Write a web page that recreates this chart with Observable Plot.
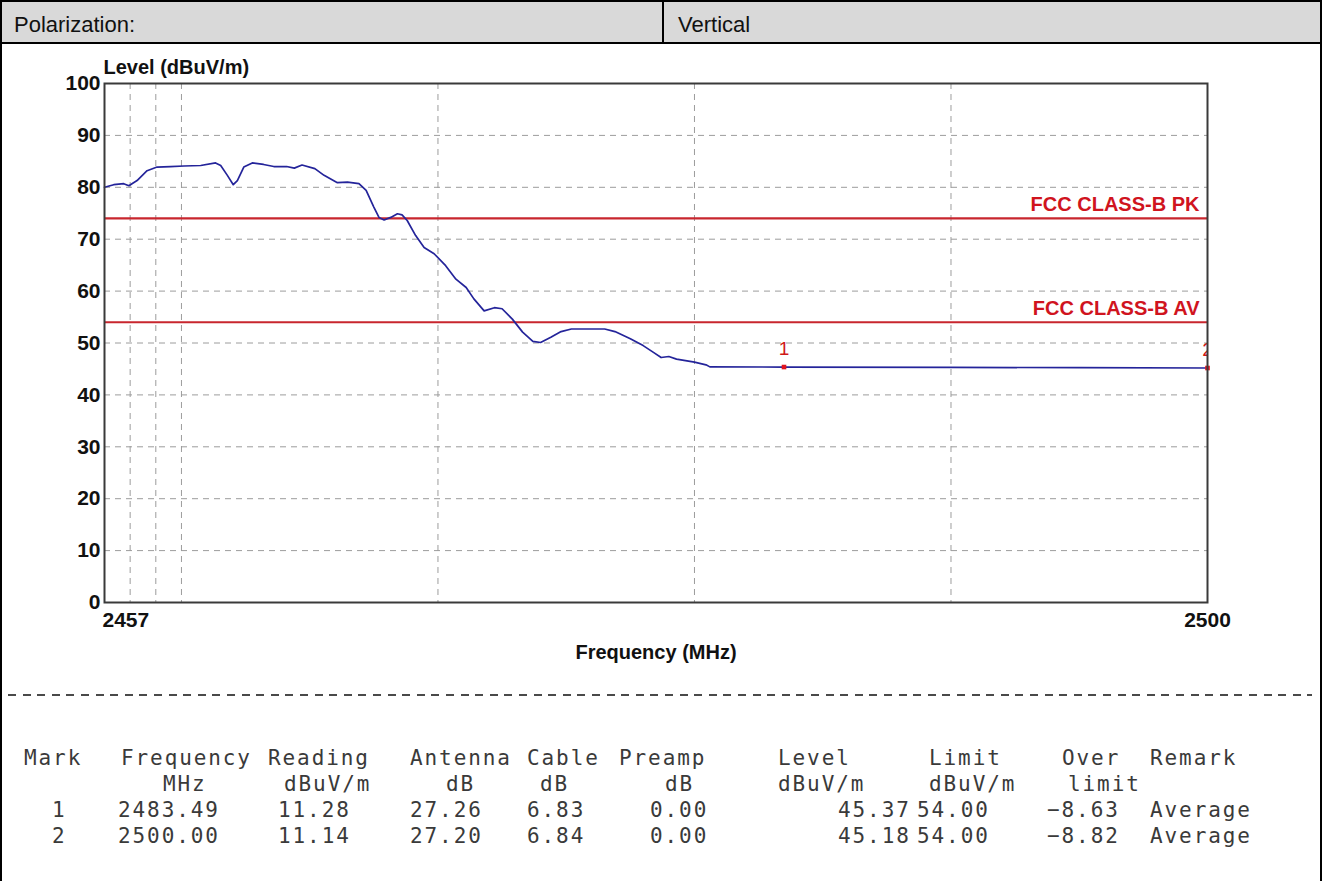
<!DOCTYPE html>
<html>
<head>
<meta charset="utf-8">
<script src="https://cdn.jsdelivr.net/npm/d3@7"></script>
<script src="https://cdn.jsdelivr.net/npm/@observablehq/plot@0.6"></script>
<style>
  body { margin: 0; background: #fff; width: 1327px; height: 881px; overflow: hidden; position: relative;
         font-family: "Liberation Sans", Arial, sans-serif; }
  #box { position: absolute; left: 0; top: 0; width: 1318px; height: 900px; border: 2px solid #000; border-bottom: none; }
  #hdr { position: absolute; left: 2px; top: 2px; width: 1318px; height: 40px; background: #d9d9d9; border-bottom: 2px solid #000; }
  #hdr .div { position: absolute; left: 660px; top: 0; width: 2px; height: 40px; background: #000; }
  #hdr .cell { position: absolute; top: 3px; height: 40px; line-height: 40px; font-size: 22px; color: #111; }
  #chart { position: absolute; left: 0; top: 44px; }
  #sep { position: absolute; left: 8px; top: 694px; width: 1304px; height: 2px;
         background: repeating-linear-gradient(to right, #4a4a4a 0 8px, transparent 8px 14.6px); }
  .t { position: absolute; font-family: "DejaVu Sans Mono", "Liberation Mono", monospace; font-size: 21px;
       line-height: 24px; letter-spacing: 1.9px; color: #3a3a3a; white-space: pre; }
</style>
</head>
<body>
<div id="box"></div>
<div id="hdr">
  <div class="cell" style="left:12px">Polarization:</div>
  <div class="div"></div>
  <div class="cell" style="left:676px">Vertical</div>
</div>
<div id="chart"></div>
<div id="sep"></div>
<div id="table"></div>
<script>
// Measured field strength trace (frequency in MHz, level in dBuV/m)
const freq = [
  2457.0, 2457.36, 2457.75, 2457.95, 2458.27, 2458.66, 2459.05, 2459.57, 2460.1, 2460.75,
  2461.33, 2461.53, 2461.79, 2462.02, 2462.18, 2462.43, 2462.76, 2463.2, 2463.6, 2464.1,
  2464.4, 2464.7, 2465.2, 2465.56, 2466.08, 2466.47, 2466.92, 2467.2, 2467.5, 2467.7,
  2467.9, 2468.16, 2468.42, 2468.6, 2468.8, 2469.13, 2469.46, 2469.85, 2470.3, 2470.7,
  2471.1, 2471.4, 2471.8, 2472.2, 2472.5, 2472.9, 2473.3, 2473.7, 2474.0, 2474.4,
  2474.8, 2475.2, 2476.0, 2476.5, 2476.9, 2477.5, 2478.0, 2478.4, 2478.7, 2479.0,
  2479.3, 2480.0, 2480.45, 2480.6, 2483.49, 2490.0, 2495.0, 2500.0
];
const level = [
  80.0, 80.5, 80.7, 80.3, 81.3, 83.2, 83.9, 84.0, 84.1, 84.2,
  84.7, 84.2, 82.3, 80.5, 81.3, 83.9, 84.7, 84.4, 84.0, 84.0,
  83.7, 84.3, 83.6, 82.3, 80.9, 81.0, 80.7, 79.4, 76.2, 74.2,
  73.7, 74.2, 74.9, 74.7, 73.6, 70.7, 68.4, 67.2, 64.9, 62.3,
  60.7, 58.5, 56.2, 56.8, 56.6, 54.6, 52.1, 50.3, 50.1, 51.1,
  52.2, 52.7, 52.7, 52.7, 52.2, 50.8, 49.5, 48.2, 47.2, 47.4,
  46.9, 46.3, 45.8, 45.4, 45.37, 45.3, 45.25, 45.18
];

// Axes and grid
const xTicks = [2457, 2500];
const yTicks = [0, 10, 20, 30, 40, 50, 60, 70, 80, 90, 100];
const gridFreq = [2458, 2459, 2460, 2470, 2480, 2490];
const gridLevel = [10, 20, 30, 40, 50, 60, 70, 80, 90];

// Limit lines
const limitNames = ["FCC CLASS-B PK", "FCC CLASS-B AV"];
const limitValues = [74, 54];

// Marker table
const markNo = ["1", "2"];
const markFreq = [2483.49, 2500.00];
const markReading = [11.28, 11.14];
const markAntenna = [27.26, 27.20];
const markCable = [6.83, 6.84];
const markPreamp = [0.00, 0.00];
const markLevel = [45.37, 45.18];
const markLimit = [54.00, 54.00];
const markOver = [-8.63, -8.82];
const markRemark = ["Average", "Average"];
const headNames = ["Mark", "Frequency", "Reading", "Antenna", "Cable", "Preamp", "Level", "Limit", "Over", "Remark"];
const headUnits = ["", "MHz", "dBuV/m", "dB", "dB", "dB", "dBuV/m", "dBuV/m", "limit", ""];

const curve = freq.map((f, i) => ({f, v: level[i]}));
const limits = limitNames.map((name, i) => ({name, value: limitValues[i]}));
const marks = markNo.map((no, i) => ({no, f: markFreq[i], v: markLevel[i]}));

const boldFont = {fontSize: 21, fontWeight: "bold", fill: "#111"};

const chart = Plot.plot({
  width: 1327,
  height: 620,
  marginLeft: 104,
  marginRight: 120,
  marginTop: 39,
  marginBottom: 62,
  x: {domain: [2457, 2500]},
  y: {domain: [0, 100]},
  style: {background: "transparent", fontFamily: "'Liberation Sans', Arial, sans-serif", overflow: "visible"},
  marks: [
    Plot.ruleX(gridFreq, {stroke: "#9c9c9c", strokeDasharray: "6,5"}),
    Plot.ruleY(gridLevel, {stroke: "#9c9c9c", strokeDasharray: "6,5"}),
    Plot.ruleY(limits, {y: "value", stroke: "#c8262e", strokeWidth: 2.2}),
    Plot.text(limits, {y: "value", text: "name", frameAnchor: "right", textAnchor: "end", dx: -8, dy: -14,
      fontSize: 20, fontWeight: "bold", fill: "#d0141e", letterSpacing: "-0.3px"}),
    Plot.line(curve, {x: "f", y: "v", stroke: "#24249a", strokeWidth: 1.7}),
    Plot.dot(marks, {x: "f", y: "v", symbol: "square", r: 2.6, fill: "#e0141e", stroke: "none"}),
    Plot.text(marks, {x: "f", y: "v", text: "no", dy: -18, fontSize: 19, fill: "#d01818", clip: true}),
    Plot.frame({stroke: "#3a3a3a", strokeWidth: 2}),
    Plot.axisY({ticks: yTicks, tickSize: 0, tickPadding: 4, label: null, ...boldFont}),
    Plot.axisX({ticks: [xTicks[0]], tickFormat: d => String(d), tickSize: 0, tickPadding: 10,
      textAnchor: "start", dx: -2, label: null, ...boldFont}),
    Plot.axisX({ticks: [xTicks[1]], tickFormat: d => String(d), tickSize: 0, tickPadding: 10, label: null, ...boldFont}),
    Plot.text(["Level (dBuV/m)"], {frameAnchor: "top-left", textAnchor: "start", lineAnchor: "middle", dy: -16, dx: -1,
      fontSize: 20, fontWeight: "bold", fill: "#111"}),
    Plot.text(["Frequency (MHz)"], {frameAnchor: "bottom", lineAnchor: "middle", dy: 50,
      fontSize: 20, fontWeight: "bold", fill: "#111"})
  ]
});
document.getElementById("chart").appendChild(chart);

// Marker table below the chart
const fmt = d3.format(".2f");
const headX = [24, 121, 268, 410, 527, 619, 778, 929, 1062, 1150];
const unitX = [0, 163, 284, 446, 540, 665, 778, 929, 1068, 0];
const rowX = [52, 118, 278, 410, 527, 650, 838, 917, 1047, 1150];
const rowTop = [746, 772, 798, 824];
const table = document.getElementById("table");
function put(text, x, y) {
  if (!text) return;
  const s = document.createElement("div");
  s.className = "t";
  s.style.left = x + "px";
  s.style.top = y + "px";
  s.textContent = text;
  table.appendChild(s);
}
headNames.forEach((h, i) => put(h, headX[i], rowTop[0]));
headUnits.forEach((u, i) => put(u, unitX[i], rowTop[1]));
markNo.forEach((no, r) => {
  const cells = [no, fmt(markFreq[r]), fmt(markReading[r]), fmt(markAntenna[r]), fmt(markCable[r]),
    fmt(markPreamp[r]), fmt(markLevel[r]), fmt(markLimit[r]), fmt(markOver[r]), markRemark[r]];
  cells.forEach((c, i) => put(c, rowX[i], rowTop[2 + r]));
});
</script>
</body>
</html>
